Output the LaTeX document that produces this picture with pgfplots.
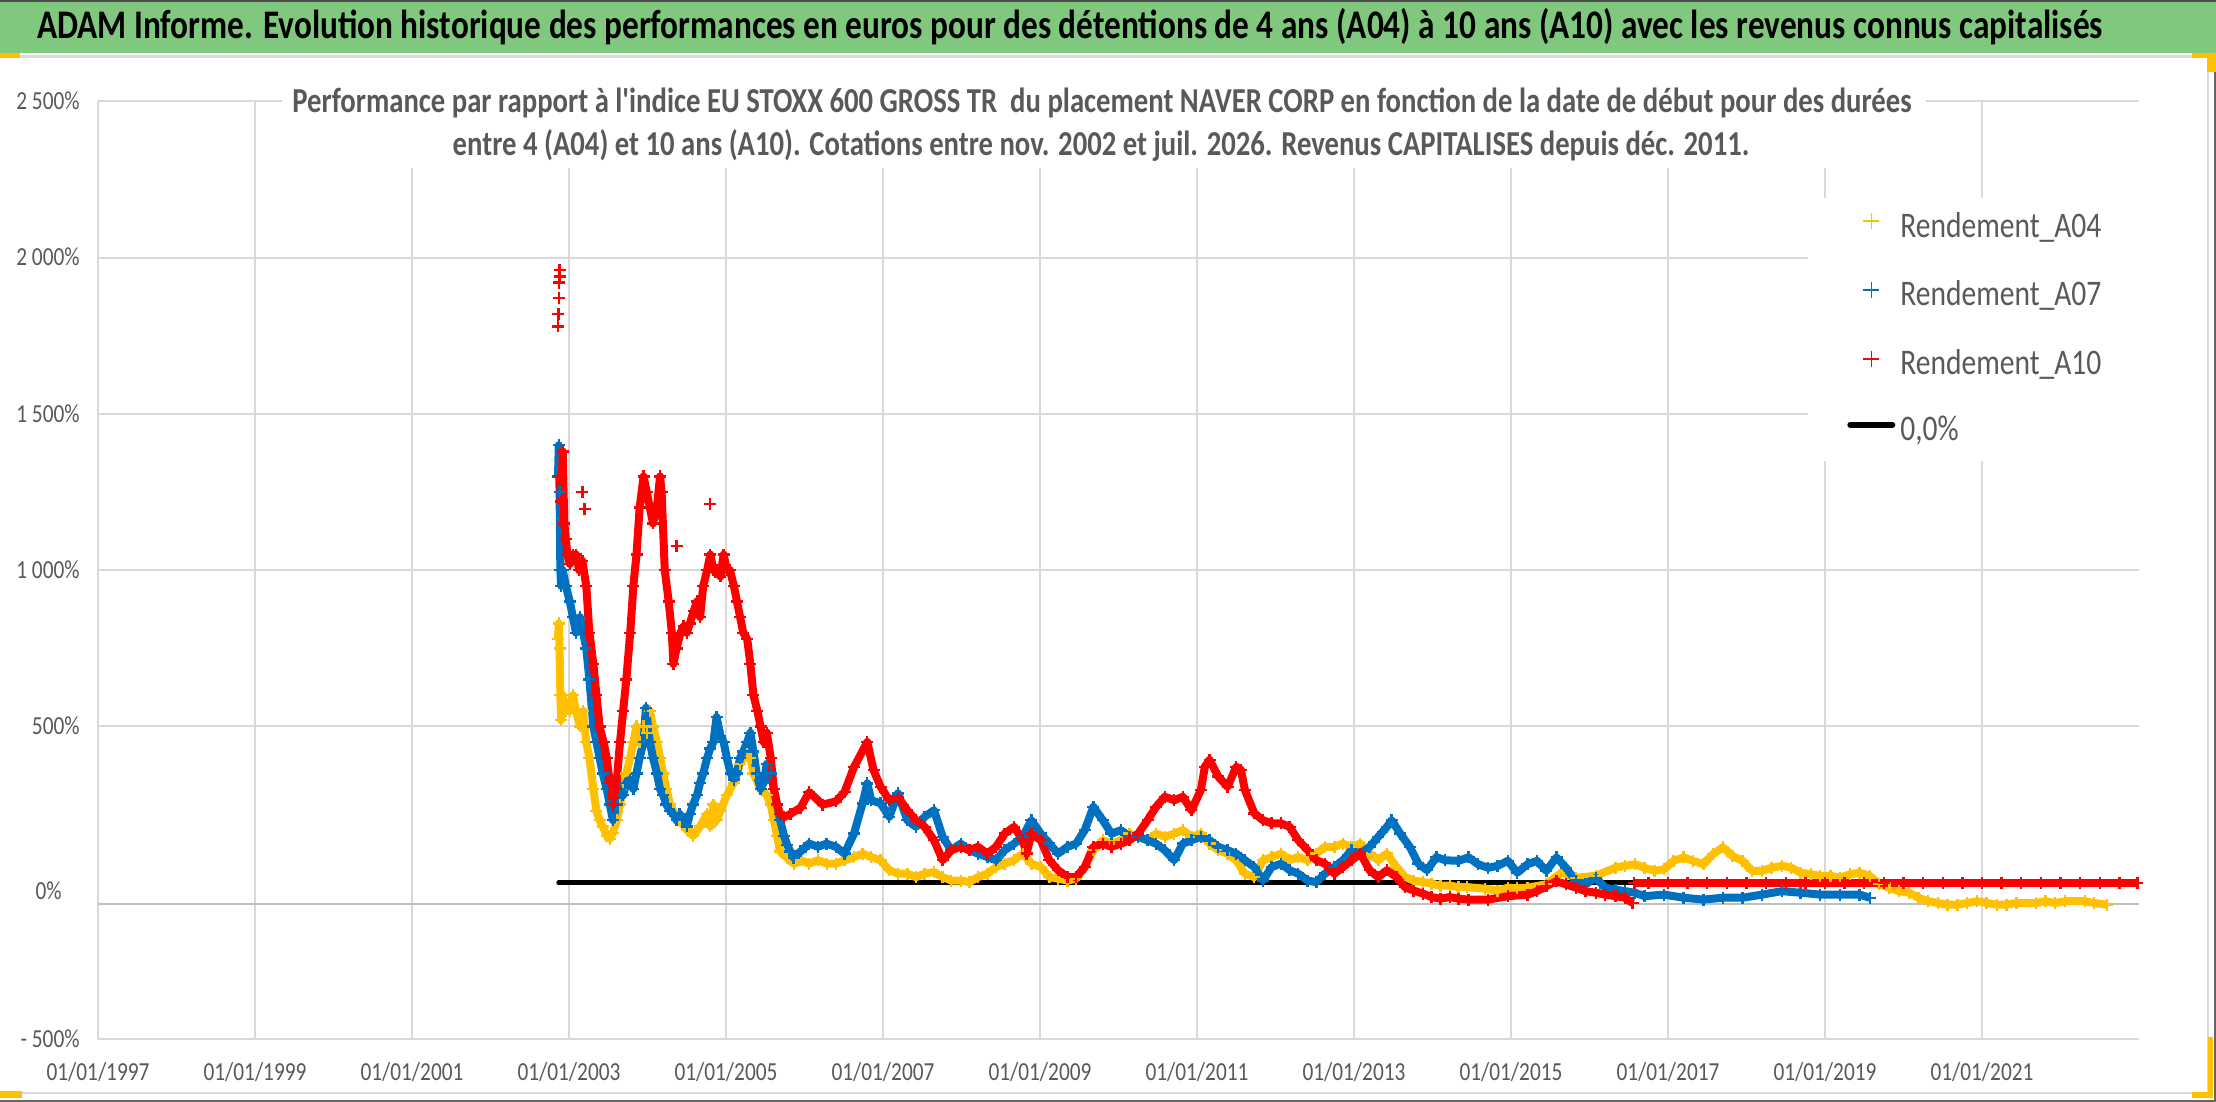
\documentclass[border=0pt]{standalone}
\usepackage{fontspec}
\setmainfont{Carlito}[FakeStretch=0.82]
\newfontfamily\plainfont{Carlito}[FakeStretch=0.82]
\usepackage{pgfplots}
\pgfplotsset{compat=1.18}
\definecolor{a04}{RGB}{255,192,0}
\definecolor{a07}{RGB}{0,112,192}
\definecolor{a10}{RGB}{255,0,0}
\definecolor{txtgray}{RGB}{89,89,89}
\definecolor{gridgray}{RGB}{217,217,217}
\definecolor{axisgray}{RGB}{191,191,191}
\definecolor{titlegreen}{RGB}{127,200,125}
\definecolor{selyellow}{RGB}{255,192,0}
\pgfplotsset{band/.style={line width=4pt, mark=+, mark size=3pt, mark options={line width=1.2pt}, forget plot}}
\begin{document}
\begin{tikzpicture}
\path[use as bounding box] (0pt,0pt) rectangle (1108pt,551pt);
\fill[white] (0pt,0pt) rectangle (1108pt,551pt);
\fill[titlegreen] (0pt,524.5pt) rectangle (1108pt,551pt);
\draw[gray!60!black, line width=1pt] (0pt,550.5pt) -- (1108pt,550.5pt);
\draw[gridgray, line width=1.5pt] (0pt,522.5pt) -- (1108pt,522.5pt);
\node[font=\fontsize{20.3}{22}\selectfont\bfseries, anchor=base, inner sep=0pt] at (535pt,531.5pt)
 {ADAM Informe. Evolution historique des performances en euros pour des détentions de 4 ans (A04) à 10 ans (A10) avec les revenus connus capitalisés};
\begin{axis}[
 at={(49pt,31.5pt)}, anchor=south west,
 scale only axis, width=1020.5pt, height=468.8pt,
 xmin=1997, xmax=2023, ymin=-500, ymax=2500,
 axis line style={draw=none},
 major tick length=0pt,
 xtick={1997,1999,...,2021},
 xticklabels={01/01/1997,01/01/1999,01/01/2001,01/01/2003,01/01/2005,01/01/2007,01/01/2009,01/01/2011,01/01/2013,01/01/2015,01/01/2017,01/01/2019,01/01/2021},
 ytick={-500,500,1000,1500,2000,2500},
 yticklabels={- 500\%,500\%,1 000\%,1 500\%,2 000\%,2 500\%},
 extra y ticks={0}, extra y tick labels={0\%},
 extra y tick style={grid=none, yticklabel style={anchor=base east, xshift=-9pt, yshift=-4.1pt}},
 xmajorgrids, ymajorgrids,
 grid style={gridgray, line width=1pt},
 tick label style={font=\fontsize{13}{15}\selectfont, text=txtgray, inner sep=0pt},
 xticklabel style={anchor=base, yshift=-21pt},
 yticklabel style={anchor=base east, xshift=-9pt, yshift=-4.1pt},
 legend style={at={(rel axis cs:0.8378,0.897)}, anchor=north west, draw=none, fill=white,
   inner xsep=19.5pt, inner ysep=7pt, row sep=19pt, column sep=2.5pt,
   font=\fontsize{18}{20}\selectfont,
   nodes={inner sep=0pt, text height=11pt, text depth=3pt, text=txtgray}},
 legend cell align=left,
 every axis plot/.append style={line join=round},
]
\draw[axisgray, line width=1pt] (axis cs:1997,-68) -- (axis cs:2023,-68);
\addlegendimage{legend image code/.code={\draw[a04, line width=0.8pt] (8pt,4pt)--(16pt,4pt) (12pt,0pt)--(12pt,8pt);}}
\addlegendentry{Rendement\_A04}
\addlegendimage{legend image code/.code={\draw[a07, line width=0.8pt] (8pt,4pt)--(16pt,4pt) (12pt,0pt)--(12pt,8pt);}}
\addlegendentry{Rendement\_A07}
\addlegendimage{legend image code/.code={\draw[a10, line width=0.8pt] (8pt,4pt)--(16pt,4pt) (12pt,0pt)--(12pt,8pt);}}
\addlegendentry{Rendement\_A10}
\addlegendimage{legend image code/.code={\draw[black, line width=3pt, line cap=round] (1.5pt,4pt)--(22.5pt,4pt);}}
\addlegendentry{0,0\%}
% 0,0% reference line
\addplot[black, line width=2.5pt, line cap=round, forget plot] coordinates {(2002.87,0) (2023,0)};
% A04
\addplot[a04, band] coordinates {
(2002.86,780)(2002.87,830)(2002.88,750)(2002.89,600)(2002.90,520)(2002.92,600)(2002.96,550)(2003.01,550)(2003.05,600)(2003.09,550)(2003.14,500)(2003.18,550)(2003.22,450)(2003.26,400)(2003.31,300)(2003.35,230)(2003.39,200)(2003.43,180)(2003.48,150)(2003.52,140)(2003.56,160)(2003.61,200)(2003.65,250)(2003.69,300)(2003.73,350)(2003.78,400)(2003.82,450)(2003.86,500)(2003.90,450)(2003.95,500)(2003.99,480)(2004.03,550)(2004.07,500)(2004.12,450)(2004.16,400)(2004.20,350)(2004.24,300)(2004.29,250)(2004.33,230)(2004.41,200)(2004.50,170)(2004.58,150)(2004.67,180)(2004.76,220)(2004.80,180)(2004.84,250)(2004.88,200)(2004.93,230)(2005.01,280)(2005.10,320)(2005.18,380)(2005.27,420)(2005.31,400)(2005.35,350)(2005.44,300)(2005.52,280)(2005.57,250)(2005.61,200)(2005.65,150)(2005.69,100)(2005.78,80)(2005.87,60)(2005.95,72)(2006.06,61)(2006.17,72)(2006.29,61)(2006.40,61)(2006.51,72)(2006.63,82)(2006.74,93)(2006.85,82)(2006.97,72)(2007.08,40)(2007.19,29)(2007.31,29)(2007.42,18)(2007.53,29)(2007.65,34)(2007.76,18)(2007.87,7)(2007.99,7)(2008.10,2)(2008.21,18)(2008.33,29)(2008.44,50)(2008.55,61)(2008.67,72)(2008.78,93)(2008.89,61)(2009.01,50)(2009.12,18)(2009.23,13)(2009.35,7)(2009.46,13)(2009.57,50)(2009.68,104)(2009.80,136)(2009.91,125)(2010.03,136)(2010.14,157)(2010.25,147)(2010.37,136)(2010.48,157)(2010.59,147)(2010.71,157)(2010.82,168)(2010.93,147)(2011.05,157)(2011.16,125)(2011.27,104)(2011.39,93)(2011.50,72)(2011.61,29)(2011.73,18)(2011.84,72)(2011.95,82)(2012.07,93)(2012.18,72)(2012.29,82)(2012.41,72)(2012.52,93)(2012.63,115)(2012.75,115)(2012.86,125)(2012.97,115)(2013.08,125)(2013.20,93)(2013.31,72)(2013.42,93)(2013.54,50)(2013.65,18)(2013.76,7)(2013.88,2)(2013.99,-3)(2014.10,-9)(2014.22,-9)(2014.33,-14)(2014.44,-14)(2014.67,-19)(2014.83,-25)(2014.96,-16)(2015.08,-18)(2015.21,-16)(2015.45,-5)(2015.64,32)(2015.83,16)(2016.08,22)(2016.33,48)(2016.45,54)(2016.58,59)(2016.70,48)(2016.83,38)(2016.95,43)(2017.07,70)(2017.20,81)(2017.32,70)(2017.45,59)(2017.57,91)(2017.70,113)(2017.82,86)(2017.95,70)(2018.07,38)(2018.20,38)(2018.32,48)(2018.45,54)(2018.57,48)(2018.69,32)(2018.82,27)(2018.94,22)(2019.07,22)(2019.19,16)(2019.32,27)(2019.44,32)(2019.57,22)(2019.69,-5)(2019.82,-16)(2019.94,-27)(2020.07,-32)(2020.19,-48)(2020.31,-59)(2020.44,-65)(2020.56,-70)(2020.69,-70)(2020.81,-65)(2020.94,-59)(2021.06,-65)(2021.19,-70)(2021.31,-70)(2021.44,-65)(2021.69,-65)(2021.81,-59)(2021.93,-65)(2022.06,-59)(2022.31,-59)(2022.43,-65)(2022.59,-70)
};
% A07
\addplot[a07, band] coordinates {
(2002.86,1300)(2002.87,1400)(2002.88,1250)(2002.89,1000)(2002.90,950)(2002.92,1000)(2002.96,950)(2003.01,900)(2003.05,850)(2003.09,800)(2003.14,850)(2003.18,800)(2003.22,750)(2003.26,650)(2003.31,500)(2003.35,450)(2003.39,400)(2003.43,350)(2003.48,300)(2003.52,250)(2003.56,200)(2003.61,250)(2003.65,300)(2003.69,280)(2003.73,320)(2003.78,330)(2003.82,300)(2003.86,350)(2003.90,400)(2003.95,450)(2003.98,560)(2004.03,450)(2004.07,400)(2004.12,350)(2004.16,300)(2004.20,280)(2004.24,250)(2004.29,230)(2004.33,220)(2004.37,200)(2004.41,220)(2004.46,200)(2004.50,180)(2004.54,220)(2004.58,250)(2004.63,280)(2004.67,320)(2004.71,350)(2004.76,400)(2004.80,430)(2004.84,450)(2004.88,530)(2004.93,470)(2004.97,450)(2005.01,400)(2005.06,350)(2005.10,330)(2005.14,350)(2005.18,400)(2005.22,420)(2005.27,450)(2005.31,480)(2005.35,420)(2005.39,350)(2005.44,300)(2005.48,320)(2005.52,380)(2005.57,350)(2005.61,300)(2005.65,250)(2005.69,200)(2005.74,150)(2005.78,120)(2005.82,100)(2005.86,80)(2005.95,100)(2006.06,125)(2006.17,115)(2006.28,125)(2006.40,115)(2006.51,93)(2006.63,157)(2006.74,254)(2006.80,318)(2006.85,264)(2006.97,254)(2007.08,211)(2007.19,286)(2007.31,200)(2007.42,179)(2007.53,211)(2007.65,232)(2007.76,147)(2007.87,104)(2007.99,125)(2008.10,104)(2008.21,93)(2008.33,82)(2008.44,72)(2008.55,104)(2008.67,125)(2008.78,147)(2008.89,200)(2009.01,157)(2009.12,125)(2009.23,93)(2009.35,115)(2009.46,125)(2009.57,168)(2009.68,243)(2009.80,200)(2009.91,157)(2010.03,168)(2010.14,147)(2010.25,147)(2010.37,136)(2010.48,125)(2010.59,104)(2010.71,72)(2010.82,125)(2010.93,136)(2011.05,147)(2011.16,136)(2011.27,115)(2011.39,104)(2011.50,93)(2011.61,72)(2011.73,50)(2011.84,7)(2011.95,50)(2012.07,61)(2012.18,40)(2012.29,29)(2012.41,7)(2012.52,2)(2012.63,29)(2012.75,50)(2012.86,72)(2012.97,104)(2013.08,93)(2013.20,115)(2013.31,147)(2013.42,179)(2013.48,200)(2013.59,157)(2013.71,115)(2013.82,61)(2013.93,40)(2014.05,82)(2014.16,72)(2014.33,70)(2014.46,81)(2014.58,59)(2014.71,48)(2014.83,54)(2014.96,70)(2015.08,32)(2015.21,59)(2015.33,70)(2015.45,38)(2015.58,81)(2015.70,48)(2015.83,5)(2015.95,-5)(2016.08,16)(2016.20,-16)(2016.33,-22)(2016.45,-27)(2016.58,-32)(2016.70,-43)(2016.95,-38)(2017.20,-48)(2017.45,-54)(2017.70,-48)(2017.95,-48)(2018.20,-38)(2018.45,-27)(2018.69,-32)(2018.94,-38)(2019.19,-38)(2019.44,-38)(2019.57,-48)
};
% A10
\addplot[a10, only marks, mark=+, mark size=3pt, mark options={line width=1.2pt}, forget plot] coordinates {
(2002.86,1780)(2002.865,1820)(2002.87,1870)(2002.875,1920)(2002.88,1960)(2002.885,1940)(2003.17,1250)(2003.20,1196)(2004.37,1077)(2004.80,1212)
};
\addplot[a10, band] coordinates {
(2002.88,1300)(2002.90,1220)(2002.92,1380)(2002.94,1150)(2002.96,1100)(2002.98,1050)(2003.01,1020)(2003.05,1050)(2003.09,1050)(2003.13,1000)(2003.17,1030)(2003.22,950)(2003.26,800)(2003.31,700)(2003.35,600)(2003.39,500)(2003.44,450)(2003.48,400)(2003.52,320)(2003.56,250)(2003.60,300)(2003.65,450)(2003.69,550)(2003.73,650)(2003.78,800)(2003.82,950)(2003.86,1050)(2003.90,1200)(2003.95,1300)(2003.99,1250)(2004.03,1200)(2004.07,1150)(2004.12,1200)(2004.16,1300)(2004.18,1250)(2004.22,1000)(2004.27,900)(2004.31,800)(2004.33,700)(2004.37,750)(2004.42,800)(2004.46,820)(2004.50,800)(2004.54,830)(2004.59,870)(2004.63,900)(2004.67,850)(2004.71,950)(2004.76,1000)(2004.80,1050)(2004.84,1000)(2004.88,1000)(2004.93,980)(2004.97,1050)(2005.01,1000)(2005.05,1000)(2005.10,950)(2005.14,900)(2005.18,850)(2005.22,800)(2005.27,780)(2005.31,700)(2005.35,600)(2005.40,550)(2005.44,500)(2005.48,450)(2005.52,480)(2005.57,400)(2005.61,300)(2005.65,250)(2005.69,220)(2005.74,210)(2005.82,220)(2005.95,240)(2006.06,290)(2006.23,250)(2006.40,260)(2006.51,290)(2006.63,370)(2006.80,450)(2006.88,360)(2006.97,307)(2007.08,264)(2007.19,275)(2007.31,232)(2007.42,200)(2007.53,179)(2007.65,136)(2007.76,72)(2007.87,104)(2007.99,115)(2008.10,104)(2008.21,115)(2008.33,93)(2008.44,115)(2008.55,157)(2008.67,179)(2008.78,136)(2008.83,93)(2008.89,157)(2009.01,136)(2009.12,72)(2009.23,40)(2009.35,18)(2009.46,18)(2009.57,50)(2009.68,115)(2009.80,125)(2009.91,115)(2010.03,125)(2010.14,136)(2010.25,157)(2010.37,200)(2010.48,243)(2010.59,275)(2010.71,264)(2010.82,275)(2010.93,232)(2011.05,297)(2011.10,371)(2011.16,393)(2011.27,340)(2011.39,307)(2011.50,371)(2011.56,361)(2011.61,297)(2011.73,222)(2011.84,200)(2011.95,190)(2012.07,190)(2012.18,179)(2012.29,136)(2012.41,104)(2012.52,72)(2012.63,61)(2012.75,29)(2012.86,50)(2012.97,72)(2013.08,93)(2013.20,40)(2013.31,18)(2013.42,40)(2013.54,18)(2013.65,-14)(2013.76,-25)(2013.88,-35)(2013.99,-46)(2014.10,-51)(2014.22,-46)(2014.33,-51)(2014.46,-54)(2014.71,-54)(2014.96,-43)(2015.21,-38)(2015.33,-27)(2015.45,-11)(2015.58,5)(2015.70,-5)(2015.83,-16)(2015.95,-27)(2016.08,-32)(2016.20,-38)(2016.33,-43)(2016.45,-48)(2016.55,-65)
};
\addplot[a10, band] coordinates {
(2016.57,0)(2016.75,0)(2017.00,0)(2017.25,0)(2017.50,0)(2017.75,0)(2018.00,0)(2018.25,0)(2018.50,0)(2018.75,0)(2019.00,0)(2019.25,0)(2019.50,0)(2019.75,0)(2020.00,0)(2020.25,0)(2020.50,0)(2020.75,0)(2021.00,0)(2021.25,0)(2021.50,0)(2021.75,0)(2022.00,0)(2022.25,0)(2022.50,0)(2022.75,0)(2022.98,0)
};
\end{axis}
% subtitle
\fill[white] (141pt,467pt) rectangle (963pt,509pt);
\node[font=\plainfont\fontsize{17.5}{18}\selectfont\bfseries, text=txtgray, anchor=base, inner sep=0pt] at (551pt,494.5pt)
 {Performance par rapport à l'indice EU STOXX 600 GROSS TR\ \ du placement NAVER CORP en fonction de la date de début pour des durées};
\node[font=\plainfont\fontsize{17.5}{18}\selectfont\bfseries, text=txtgray, anchor=base, inner sep=0pt] at (550.5pt,473pt)
 {entre 4 (A04) et 10 ans (A10). Cotations entre nov. 2002 et juil. 2026. Revenus CAPITALISES depuis déc. 2011.};
% frame
\draw[gridgray, line width=1pt] (1104pt,4.5pt) -- (1104pt,522pt);
\draw[gridgray, line width=1pt] (0pt,4.5pt) -- (1104pt,4.5pt);
\draw[gray!80!black, line width=1pt] (1107.5pt,0pt) -- (1107.5pt,524pt);
\draw[gray!80!black, line width=1pt] (0pt,0.5pt) -- (1108pt,0.5pt);
% selection handles
\fill[selyellow] (1104pt,2pt) rectangle (1106.5pt,32.5pt);
\fill[selyellow] (1096pt,2pt) rectangle (1106.5pt,5pt);
\fill[selyellow] (1096pt,522pt) rectangle (1108pt,524.5pt);
\fill[selyellow] (1103.5pt,515pt) rectangle (1108pt,524.5pt);
\fill[selyellow] (0pt,2pt) rectangle (11pt,5.5pt);
\fill[selyellow] (0pt,522pt) rectangle (10pt,524.5pt);
\end{tikzpicture}
\end{document}
